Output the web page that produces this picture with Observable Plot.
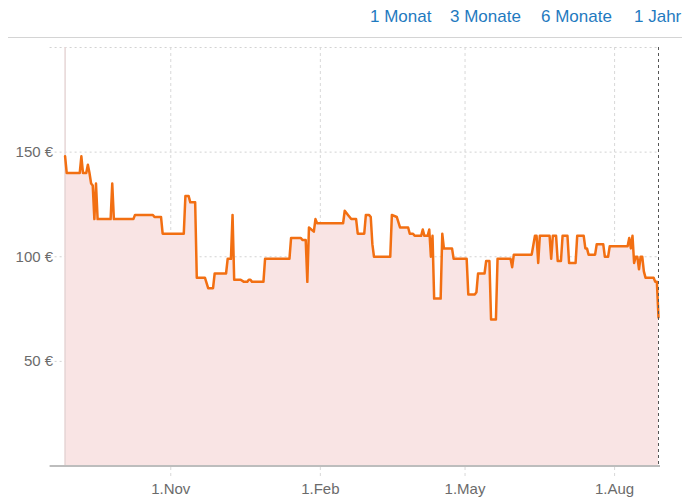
<!DOCTYPE html>
<html><head><meta charset="utf-8">
<script src="https://cdn.jsdelivr.net/npm/d3@7"></script>
<script src="https://cdn.jsdelivr.net/npm/@observablehq/plot@0.6"></script>
<style>
body{margin:0;background:#fff;font-family:Arial,"Liberation Sans",sans-serif;}
#hdr{position:relative;width:690px;height:40px;}
#hdr .rule{position:absolute;left:8px;width:674px;top:37px;border-top:1px solid #d4d4d4;}
#hdr span{position:absolute;top:7px;font-size:17px;color:#1f7ac0;white-space:nowrap;}
#chart svg{display:block;}
</style></head><body>
<div id="hdr"><div class="rule"></div></div>
<div id="chart"></div>
<script>
const rangeLinks = ["1 Monat", "3 Monate", "6 Monate", "1 Jahr"];
const linkLeft = [370, 450, 541, 634];

const dates = [
"2022-08-28","2022-08-29","2022-09-06","2022-09-07","2022-09-08","2022-09-10","2022-09-11","2022-09-12","2022-09-13","2022-09-14",
"2022-09-15","2022-09-16","2022-09-17","2022-09-25","2022-09-26","2022-09-27","2022-10-09","2022-10-10","2022-10-21","2022-10-22",
"2022-10-26","2022-10-27","2022-11-09","2022-11-10","2022-11-12","2022-11-13","2022-11-16","2022-11-17","2022-11-22","2022-11-24",
"2022-11-27","2022-11-28","2022-12-05","2022-12-06","2022-12-08","2022-12-09","2022-12-10","2022-12-14","2022-12-16","2022-12-18",
"2022-12-19","2022-12-20","2022-12-21","2022-12-28","2022-12-29","2023-01-13","2023-01-14","2023-01-20","2023-01-21","2023-01-23",
"2023-01-24","2023-01-25","2023-01-28","2023-01-29","2023-01-30","2023-02-15","2023-02-16","2023-02-18","2023-02-20","2023-02-23",
"2023-02-24","2023-02-28","2023-03-01","2023-03-03","2023-03-04","2023-03-05","2023-03-06","2023-03-16","2023-03-17","2023-03-20",
"2023-03-22","2023-03-27","2023-03-28","2023-03-30","2023-03-31","2023-04-04","2023-04-05","2023-04-06","2023-04-08","2023-04-09",
"2023-04-10","2023-04-11","2023-04-12","2023-04-16","2023-04-17","2023-04-18","2023-04-23","2023-04-24","2023-05-02","2023-05-03",
"2023-05-07","2023-05-08","2023-05-09","2023-05-13","2023-05-14","2023-05-16","2023-05-17","2023-05-20","2023-05-21","2023-05-29",
"2023-05-30","2023-05-31","2023-06-11","2023-06-13","2023-06-14","2023-06-15","2023-06-16","2023-06-22","2023-06-23","2023-06-24",
"2023-06-26","2023-06-27","2023-06-29","2023-06-30","2023-07-03","2023-07-04","2023-07-08","2023-07-09","2023-07-13","2023-07-14",
"2023-07-15","2023-07-16","2023-07-20","2023-07-21","2023-07-25","2023-07-26","2023-07-28","2023-07-29","2023-08-09","2023-08-10",
"2023-08-11","2023-08-12","2023-08-13","2023-08-14","2023-08-15","2023-08-16","2023-08-17","2023-08-18","2023-08-19","2023-08-20",
"2023-08-25","2023-08-26","2023-08-27","2023-08-28"];

const prices = [
148,140,140,148,140,140,144,140,135,134,
118,135,118,118,135,118,118,120,120,119,
119,111,111,129,129,126,126,90,90,85,
85,92,92,99,99,120,89,89,88,88,
89,89,88,88,99,99,109,109,108,108,
88,114,112,118,116,116,122,120,118,118,
111,111,120,120,119,106,100,100,120,119,
114,114,111,111,110,110,113,110,110,113,
100,110,80,80,111,104,104,99,99,82,
82,83,92,92,98,98,70,70,99,99,
95,101,101,110,110,97,110,110,99,110,
110,98,98,110,110,97,97,110,110,104,
104,101,101,106,106,100,100,105,105,109,
104,110,97,100,100,94,100,100,93,90,
90,88,88,71];

const yTicks = [50, 100, 150];
const yGrid = [50, 100, 150, 200];
const xTicks = ["2022-11-01", "2023-02-01", "2023-05-01", "2023-08-01"];
const xTickLabels = ["1.Nov", "1.Feb", "1.May", "1.Aug"];
const xDomain = ["2022-08-28", "2023-08-28"];
const yDomain = [0, 200];

const hdr = document.getElementById("hdr");
rangeLinks.forEach((t, i) => {
  const s = document.createElement("span");
  s.textContent = t;
  s.style.left = linkLeft[i] + "px";
  hdr.appendChild(s);
});

const parse = d3.utcParse("%Y-%m-%d");
const data = dates.map((d, i) => ({date: parse(d), price: prices[i]}));
const tickDates = xTicks.map(parse);
const labelOf = new Map(tickDates.map((d, i) => [+d, xTickLabels[i]]));
const start = parse(xDomain[0]), end = parse(xDomain[1]);

const chart = Plot.plot({
  width: 690,
  height: 462,
  marginLeft: 64.6,
  marginRight: 32,
  marginTop: 7,
  marginBottom: 36.5,
  style: {fontFamily: "Arial, 'Liberation Sans', sans-serif", fontSize: "15px", color: "#6b6b6b", background: "#fff"},
  x: {type: "utc", domain: [start, end], label: null},
  y: {domain: yDomain, label: null},
  marks: [
    Plot.ruleY(yGrid, {stroke: "#d2d2d2", strokeDasharray: "2,3", strokeWidth: 1, insetLeft: -15}),
    Plot.ruleX(tickDates, {stroke: "#d8d8d8", strokeDasharray: "3,3", strokeWidth: 1, insetBottom: -12}),
    Plot.areaY(data, {x: "date", y: "price", fill: "#f9e4e4", curve: "linear"}),
    Plot.ruleX([start], {stroke: "#e6d6d6", strokeWidth: 1.5}),
    Plot.line(data, {x: "date", y: "price", stroke: "#f26f12", strokeWidth: 2.5, curve: "linear", strokeLinejoin: "round"}),
    Plot.ruleX([end], {stroke: "#555", strokeDasharray: "3,3", strokeWidth: 1}),
    Plot.ruleY([0], {stroke: "#bdbdbd", strokeWidth: 2, insetLeft: -15, insetRight: -2}),
    Plot.axisY(yTicks, {tickSize: 0, tickPadding: 12, tickFormat: d => d + " €", fill: "#6b6b6b", label: null}),
    Plot.axisX(tickDates, {tickSize: 0, tickPadding: 17, tickFormat: d => labelOf.get(+d), fill: "#6b6b6b", label: null})
  ]
});
document.getElementById("chart").appendChild(chart);
</script>
</body></html>
